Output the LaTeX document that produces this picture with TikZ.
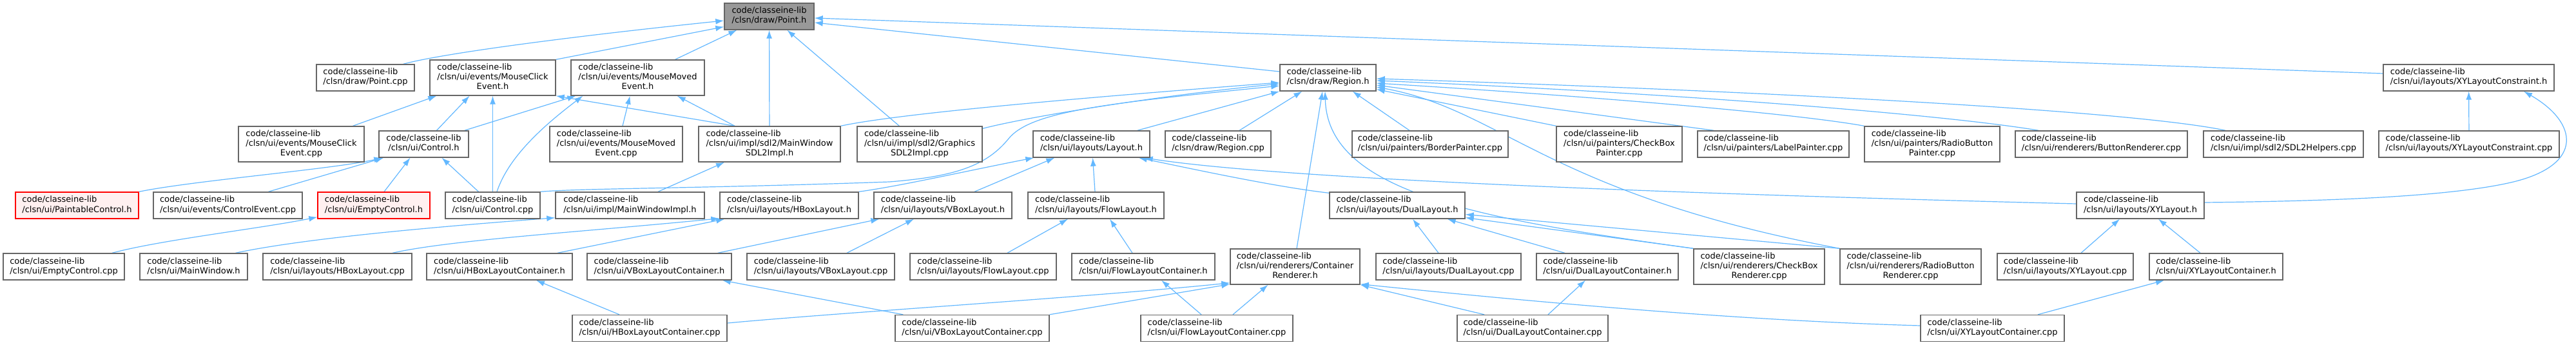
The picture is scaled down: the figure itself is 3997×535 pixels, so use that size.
\documentclass[tikz,border=0pt]{standalone}
\usepackage{fontspec}
\setmainfont{DejaVu Sans}
\usetikzlibrary{arrows.meta,calc}
\definecolor{edgeblue}{HTML}{63B8FF}
\definecolor{nodeborder}{HTML}{666666}
\definecolor{redfill}{HTML}{FFF0F0}
\definecolor{pointfill}{HTML}{999999}
\pgfdeclarelayer{background}
\pgfsetlayers{background,main}
\newcommand{\lbltwo}[1]{\begin{tabular}{@{}l@{}}code/classeine-lib\\\multicolumn{1}{@{}c@{}}{#1}\end{tabular}}
\newcommand{\lblthree}[2]{\begin{tabular}{@{}l@{}}code/classeine-lib\\#1\\\multicolumn{1}{@{}c@{}}{#2}\end{tabular}}
\tikzset{
  box/.style={draw=nodeborder, fill=white, line width=1.4bp, rectangle, inner sep=0pt,
    minimum height=41bp, font=\fontsize{13bp}{15bp}\selectfont},
  tall/.style={minimum height=55bp},
  redbox/.style={box, draw=red, fill=redfill},
  rootbox/.style={box, fill=pointfill},
  dep/.style={draw=edgeblue, line width=1.2bp, {Latex[length=13bp,width=9bp]}-}
}
\begin{document}
\begin{tikzpicture}[x=1bp,y=-1bp]
\useasboundingbox (0,0) rectangle (3997,535);
% row 1
\node[rootbox,minimum width=139bp] (pointh) at (1193.5,25.5) {\lbltwo{/clsn/draw/Point.h}};
% row 2
\node[box,minimum width=152bp] (pointcpp) at (567,120.5) {\lbltwo{/clsn/draw/Point.cpp}};
\node[box,tall,minimum width=195bp] (mceh) at (764.5,120.5) {\lblthree{/clsn/ui/events/MouseClick}{Event.h}};
\node[box,tall,minimum width=207bp] (mmeh) at (989.5,120.5) {\lblthree{/clsn/ui/events/MouseMoved}{Event.h}};
\node[box,minimum width=149bp] (regionh) at (2060.5,120.5) {\lbltwo{/clsn/draw/Region.h}};
\node[box,minimum width=265bp] (xylch) at (3830.5,120.5) {\lbltwo{/clsn/ui/layouts/XYLayoutConstraint.h}};
% row 3
\node[box,tall,minimum width=195bp] (mcecpp) at (467.5,223.5) {\lblthree{/clsn/ui/events/MouseClick}{Event.cpp}};
\node[box,minimum width=139bp] (controlh) at (657.5,223.5) {\lbltwo{/clsn/ui/Control.h}};
\node[box,tall,minimum width=206bp] (mmecpp) at (956,223.5) {\lblthree{/clsn/ui/events/MouseMoved}{Event.cpp}};
\node[box,tall,minimum width=220bp] (mwsdlh) at (1194,223.5) {\lblthree{/clsn/ui/impl/sdl2/MainWindow}{SDL2Impl.h}};
\node[box,tall,minimum width=194bp] (gfxcpp) at (1427,223.5) {\lblthree{/clsn/ui/impl/sdl2/Graphics}{SDL2Impl.cpp}};
\node[box,minimum width=181bp] (layouth) at (1693.5,223.5) {\lbltwo{/clsn/ui/layouts/Layout.h}};
\node[box,minimum width=164bp] (regioncpp) at (1890,223.5) {\lbltwo{/clsn/draw/Region.cpp}};
\node[box,minimum width=242bp] (bordercpp) at (2219,223.5) {\lbltwo{/clsn/ui/painters/BorderPainter.cpp}};
\node[box,tall,minimum width=195bp] (cbpcpp) at (2512.5,223.5) {\lblthree{/clsn/ui/painters/CheckBox}{Painter.cpp}};
\node[box,minimum width=235bp] (labelcpp) at (2751.5,223.5) {\lbltwo{/clsn/ui/painters/LabelPainter.cpp}};
\node[box,tall,minimum width=210bp] (rbpcpp) at (2998,223.5) {\lblthree{/clsn/ui/painters/RadioButton}{Painter.cpp}};
\node[box,minimum width=267bp] (btnrcpp) at (3260.5,223.5) {\lbltwo{/clsn/ui/renderers/ButtonRenderer.cpp}};
\node[box,minimum width=248bp] (sdlhcpp) at (3543,223.5) {\lbltwo{/clsn/ui/impl/sdl2/SDL2Helpers.cpp}};
\node[box,minimum width=280bp] (xylccpp) at (3831,223.5) {\lbltwo{/clsn/ui/layouts/XYLayoutConstraint.cpp}};
% row 4
\node[redbox,minimum width=191bp] (paintableh) at (119.5,318.5) {\lbltwo{/clsn/ui/PaintableControl.h}};
\node[box,minimum width=231bp] (ctrleventcpp) at (353.5,318.5) {\lbltwo{/clsn/ui/events/ControlEvent.cpp}};
\node[redbox,minimum width=174bp] (emptyh) at (580,318.5) {\lbltwo{/clsn/ui/EmptyControl.h}};
\node[box,minimum width=147bp] (controlcpp) at (764.5,318.5) {\lbltwo{/clsn/ui/Control.cpp}};
\node[box,minimum width=231bp] (mwimplh) at (977.5,318.5) {\lbltwo{/clsn/ui/impl/MainWindowImpl.h}};
\node[box,minimum width=215bp] (hboxh) at (1224.5,318.5) {\lbltwo{/clsn/ui/layouts/HBoxLayout.h}};
\node[box,minimum width=214bp] (vboxh) at (1463,318.5) {\lbltwo{/clsn/ui/layouts/VBoxLayout.h}};
\node[box,minimum width=211bp] (flowh) at (1700.5,318.5) {\lbltwo{/clsn/ui/layouts/FlowLayout.h}};
\node[box,minimum width=210bp] (dualh) at (2168,318.5) {\lbltwo{/clsn/ui/layouts/DualLayout.h}};
\node[box,minimum width=198bp] (xyh) at (3321,318.5) {\lbltwo{/clsn/ui/layouts/XYLayout.h}};
% row 5
\node[box,minimum width=188bp] (emptycpp) at (99,413.5) {\lbltwo{/clsn/ui/EmptyControl.cpp}};
\node[box,minimum width=167bp] (mainwindowh) at (300.5,413.5) {\lbltwo{/clsn/ui/MainWindow.h}};
\node[box,minimum width=231bp] (hboxcpp) at (523.5,413.5) {\lbltwo{/clsn/ui/layouts/HBoxLayout.cpp}};
\node[box,minimum width=226bp] (hboxch) at (775,413.5) {\lbltwo{/clsn/ui/HBoxLayoutContainer.h}};
\node[box,minimum width=224bp] (vboxch) at (1023,413.5) {\lbltwo{/clsn/ui/VBoxLayoutContainer.h}};
\node[box,minimum width=229bp] (vboxcpp) at (1273.5,413.5) {\lbltwo{/clsn/ui/layouts/VBoxLayout.cpp}};
\node[box,minimum width=227bp] (flowcpp) at (1525.5,413.5) {\lbltwo{/clsn/ui/layouts/FlowLayout.cpp}};
\node[box,minimum width=222bp] (flowch) at (1774,413.5) {\lbltwo{/clsn/ui/FlowLayoutContainer.h}};
\node[box,tall,minimum width=201bp] (crh) at (2009.5,413.5) {\lblthree{/clsn/ui/renderers/Container}{Renderer.h}};
\node[box,minimum width=225bp] (dualcpp) at (2247.5,413.5) {\lbltwo{/clsn/ui/layouts/DualLayout.cpp}};
\node[box,minimum width=220bp] (dualch) at (2494,413.5) {\lbltwo{/clsn/ui/DualLayoutContainer.h}};
\node[box,tall,minimum width=203bp] (cbrcpp) at (2729.5,413.5) {\lblthree{/clsn/ui/renderers/CheckBox}{Renderer.cpp}};
\node[box,tall,minimum width=219bp] (rbrcpp) at (2964.5,413.5) {\lblthree{/clsn/ui/renderers/RadioButton}{Renderer.cpp}};
\node[box,minimum width=211bp] (xycpp) at (3204.5,413.5) {\lbltwo{/clsn/ui/layouts/XYLayout.cpp}};
\node[box,minimum width=207bp] (xych) at (3438.5,413.5) {\lbltwo{/clsn/ui/XYLayoutContainer.h}};
% row 6
\node[box,minimum width=240bp] (hboxccpp) at (1008,509) {\lbltwo{/clsn/ui/HBoxLayoutContainer.cpp}};
\node[box,minimum width=239bp] (vboxccpp) at (1508.5,509) {\lbltwo{/clsn/ui/VBoxLayoutContainer.cpp}};
\node[box,minimum width=236bp] (flowccpp) at (1888,509) {\lbltwo{/clsn/ui/FlowLayoutContainer.cpp}};
\node[box,minimum width=234bp] (dualccpp) at (2378,509) {\lbltwo{/clsn/ui/DualLayoutContainer.cpp}};
\node[box,minimum width=223bp] (xyccpp) at (3091.5,509) {\lbltwo{/clsn/ui/XYLayoutContainer.cpp}};

\begin{pgfonlayer}{background}
\fill[white] (0,0) rectangle (3997,535);
% Point.h
\draw[dep] ($(pointh.west)+(0,6.5)$) .. controls (900,55) and (690,82) .. ($(pointcpp.north east)+(-18,0)$);
\draw[dep] ($(pointh.west)+(0,16)$) -- (mceh.north east);
\draw[dep] ($(pointh.south west)+(20,0)$) -- ($(mmeh.north)+(58,0)$);
\draw[dep] (pointh) -- (mwsdlh);
\draw[dep] ($(pointh.south west)+(98,0)$) -- ($(gfxcpp.north west)+(66,0)$);
\draw[dep] ($(pointh.east)+(0,9.5)$) -- ($(regionh.west)+(0,-9.5)$);
\draw[dep] ($(pointh.east)+(0,2.5)$) -- ($(xylch.west)+(0,-6.5)$);
% MouseClickEvent.h
\draw[dep] ($(mceh.south west)+(11,0)$) -- ($(mcecpp.north)+(80,0)$);
\draw[dep] ($(mceh.south)+(-36,0)$) -- ($(controlh.north)+(20,0)$);
\draw[dep] (mceh.south) -- (controlcpp.north);
\draw[dep] (mceh.south east) -- ($(mwsdlh.north)+(-54,0)$);
% MouseMovedEvent.h
\draw[dep] ($(mmeh.south west)+(8,0)$) -- ($(controlh.north east)+(-7,0)$);
\draw[dep] ($(mmeh.south west)+(19,0)$) .. controls (850,190) and (790,240) .. ($(controlcpp.north)+(6.5,0)$);
\draw[dep] ($(mmeh.south)+(-12,0)$) -- ($(mmecpp.north)+(10,0)$);
\draw[dep] ($(mmeh.south east)+(-43,0)$) -- ($(mwsdlh.north)+(-54,0)$);
% Control.h
\draw[dep] ($(controlh.south west)+(6,0)$) .. controls (520,262) and (300,280) .. (paintableh.north east);
\draw[dep] ($(controlh.south west)+(8,0)$) -- ($(ctrleventcpp.north)+(63,0)$);
\draw[dep] ($(controlh.south)+(-21,0)$) -- ($(emptyh.north)+(16,0)$);
\draw[dep] ($(controlh.south)+(28,0)$) -- ($(controlcpp.north)+(-22,0)$);
% EmptyControl.h
\draw[dep] ($(emptyh.south west)+(0,-3)$) .. controls (400,355) and (250,372) .. ($(emptycpp.north)+(75,0)$);
% MainWindow impl
\draw[dep] ($(mwsdlh.south)+(-70,0)$) -- ($(mwimplh.north)+(43.5,0)$);
\draw[dep] ($(mwimplh.south west)+(0,-2)$) .. controls (700,350) and (480,368) .. ($(mainwindowh.north)+(65,0)$);
% HBox
\draw[dep] ($(hboxh.south west)+(0,-1)$) .. controls (900,360) and (700,372) .. ($(hboxcpp.north)+(85.5,0)$);
\draw[dep] ($(hboxh.south west)+(8,0)$) -- ($(hboxch.north)+(90,0)$);
\draw[dep] ($(hboxch.south)+(57,0)$) -- ($(hboxccpp.north)+(-47,0)$);
% VBox
\draw[dep] ($(vboxch.south east)+(-15,0)$) -- ($(vboxccpp.north west)+(13,0)$);
\draw[dep] ($(vboxh.south west)+(9,0)$) -- ($(vboxch.north east)+(-22,0)$);
\draw[dep] ($(vboxh.south)+(-45,0)$) -- ($(vboxcpp.north)+(40.5,0)$);
% Flow
\draw[dep] ($(flowh.south)+(-43.5,0)$) -- ($(flowcpp.north)+(37.5,0)$);
\draw[dep] ($(flowh.south)+(21.5,0)$) -- ($(flowch.north)+(-17,0)$);
\draw[dep] ($(flowch.south)+(28,0)$) -- ($(flowccpp.north)+(-24,0)$);
% Layout.h
\draw[dep] ($(layouth.south west)+(2,0)$) .. controls (1500,265) and (1400,288) .. (hboxh.north east);
\draw[dep] ($(layouth.south west)+(34,0)$) -- ($(vboxh.north)+(49,0)$);
\draw[dep] ($(layouth.south)+(2,0)$) -- ($(flowh.north)+(-1.5,0)$);
\draw[dep] ($(layouth.south east)+(-18,0)$) .. controls (1850,262) and (1980,290) .. ($(dualh.north west)+(0,2)$);
\draw[dep] ($(layouth.south east)+(-9,0)$) .. controls (2000,280) and (2700,303) .. ($(xyh.west)+(0,-2.5)$);
% Region.h
\draw[dep] (regionh.south west) -- ($(layouth.north east)+(-20,0)$);
\draw[dep] ($(regionh.south west)+(35,0)$) -- ($(regioncpp.north)+(33,0)$);
\draw[dep] ($(regionh.south)+(-8.5,0)$) -- ($(crh.north)+(2.5,0)$);
\draw[dep] ($(regionh.south east)+(-37,0)$) -- ($(bordercpp.north)+(-32,0)$);
\draw[dep] ($(regionh.east)+(0,18)$) -- (cbpcpp.north west);
\draw[dep] ($(regionh.east)+(0,11.5)$) -- ($(labelcpp.north west)+(26,0)$);
\draw[dep] ($(regionh.east)+(0,8.5)$) .. controls (2450,148) and (2780,175) .. (rbpcpp.north west);
\draw[dep] ($(regionh.east)+(0,4.5)$) .. controls (2550,142) and (3000,175) .. ($(btnrcpp.north west)+(37,0)$);
\draw[dep] ($(regionh.east)+(0,1.5)$) .. controls (2700,140) and (3300,170) .. ($(sdlhcpp.north west)+(35,0)$);
\draw[dep] ($(regionh.south)+(-4.5,0)$) .. controls (2060,300) and (2300,340) .. (cbrcpp.north west);
\draw[dep] ($(regionh.east)+(0,14.5)$) .. controls (2330,170) and (2400,300) .. (rbrcpp.north west);
\draw[dep] ($(regionh.west)+(0,7.5)$) .. controls (1700,150) and (1400,175) .. (mwsdlh.north east);
\draw[dep] ($(regionh.west)+(0,9.5)$) .. controls (1800,148) and (1600,180) .. ($(gfxcpp.north east)+(0,4)$);
\draw[dep] ($(regionh.west)+(0,12.5)$) .. controls (1720,160) and (1600,172) .. (1565,215) .. controls (1530,258) and (1480,274) .. (1380,282) .. controls (1100,292) and (900,292) .. (controlcpp.north east);
% DualLayout.h
\draw[dep] ($(dualh.south)+(24,0)$) -- ($(dualcpp.north)+(-15.5,0)$);
\draw[dep] ($(dualh.south east)+(-28,0)$) -- ($(dualch.north)+(-66,0)$);
\draw[dep] ($(dualh.east)+(0,19)$) -- (cbrcpp.north west);
\draw[dep] ($(dualh.east)+(0,14)$) -- (rbrcpp.north west);
\draw[dep] ($(dualch.south)+(-34,0)$) -- ($(dualccpp.north)+(24,0)$);
% ContainerRenderer.h
\draw[dep] ($(crh.south west)+(0,-3)$) .. controls (1700,460) and (1300,485) .. ($(hboxccpp.east)+(0,-8)$);
\draw[dep] ($(crh.south west)+(0,-1)$) -- (vboxccpp.north east);
\draw[dep] ($(crh.south)+(-42,0)$) -- ($(flowccpp.north)+(25,0)$);
\draw[dep] (crh.south east) -- ($(dualccpp.north)+(-75,0)$);
\draw[dep] ($(crh.south east)+(0,-1)$) .. controls (2400,470) and (2700,497) .. ($(xyccpp.west)+(0,-4)$);
% XYLayout
\draw[dep] ($(xyh.south)+(-32,0)$) -- ($(xycpp.north)+(24.5,0)$);
\draw[dep] ($(xyh.south)+(28,0)$) -- ($(xych.north)+(-24.5,0)$);
\draw[dep] ($(xych.south)+(-80.5,0)$) -- ($(xyccpp.north)+(70.5,0)$);
% XYLayoutConstraint.h
\draw[dep] (xylch) -- (xylccpp);
\draw[dep] ($(xylch.south)+(85.5,0)$) .. controls (4000,190) and (4010,255) .. (3900,282) .. controls (3800,306) and (3600,312) .. ($(xyh.east)+(0,-4.5)$);
\end{pgfonlayer}
\end{tikzpicture}
\end{document}
